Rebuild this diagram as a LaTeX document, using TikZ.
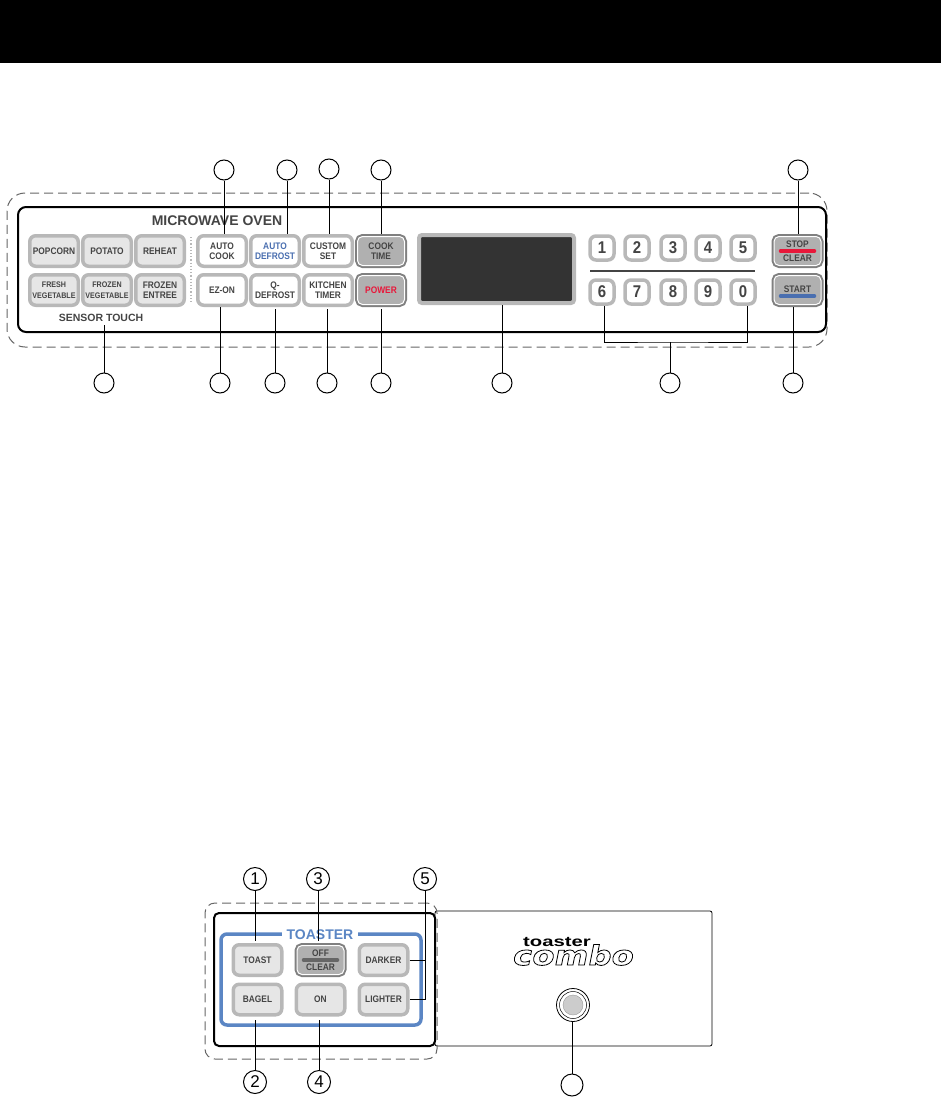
\documentclass[tikz,border=0pt]{standalone}
\usepackage{fontspec}
\setmainfont{Liberation Sans}
\newfontfamily\btnfont[FakeStretch=0.88]{Liberation Sans}
\newfontfamily\logofont[FakeStretch=1.45]{Liberation Sans}
\newfontfamily\combofont[FakeStretch=1.2,FakeSlant=0.2]{DejaVu Sans}
\usetikzlibrary{positioning}

\definecolor{btnrim}{HTML}{B8B8B8}
\definecolor{btndark}{HTML}{808080}
\definecolor{btnface}{HTML}{E6E6E6}
\definecolor{btnmid}{HTML}{B0B0B0}
\definecolor{ink}{HTML}{444444}
\definecolor{dashgray}{HTML}{666666}
\definecolor{blueline}{HTML}{5B86C4}
\definecolor{autoblue}{HTML}{4A6FB0}
\definecolor{powerred}{HTML}{E8173A}

\newcommand{\txtsize}[1]{\fontsize{#1}{#1}\selectfont}

\begin{document}
\begin{tikzpicture}[
    x=1pt, y=-1pt,
    btn/.style={rectangle, rounded corners=6pt, draw=btnrim, line width=3.5pt, fill=white,
        minimum width=48.5pt, minimum height=30.5pt, inner sep=0pt, align=center, text=ink,
        font=\btnfont\bfseries\fontsize{9.5}{10.5}\selectfont},
    sensorbtn/.style={btn, fill=btnface},
    smallbtn/.style={sensorbtn, font=\btnfont\bfseries\fontsize{8.1}{10.5}\selectfont},
    % gray rim, thin white ring, gray face
    darkbtn/.style={btn, fill=btnmid, draw=white, line width=1pt, outer sep=2.5pt,
        minimum width=47pt, minimum height=29pt, rounded corners=5pt,
        preaction={draw=btndark, line width=5pt}},
    clearbtn/.style={darkbtn, font=\btnfont\bfseries\fontsize{9.5}{14}\selectfont},
    numkey/.style={btn, minimum width=24pt, minimum height=24pt, rounded corners=6pt,
        font=\btnfont\bfseries\fontsize{17}{17}\selectfont},
    callout/.style={circle, draw, line width=1pt, minimum size=20pt, inner sep=0pt},
    numcall/.style={callout, minimum size=23pt, font=\fontsize{17}{17}\selectfont},
    lead/.style={line width=1pt},
    panel/.style={rectangle, draw, line width=2pt, rounded corners=8pt, inner sep=0pt},
    dashbox/.style={rectangle, draw=dashgray, line width=1pt, dash pattern=on 9pt off 5pt, inner sep=0pt},
    bar/.style={line width=3.5pt, line cap=round}
]
    \useasboundingbox (0,0) rectangle (941,1097);
    \fill[black] (0,0) rectangle (941,63);

    % oven control panel
    \node[dashbox, rounded corners=18pt, minimum width=820pt, minimum height=154pt] (ovenzone) at (417,270) {};
    \node[panel, minimum width=808pt, minimum height=125pt] (ovenpanel) at (422,269.5) {};
    \node[text=ink, font=\bfseries\txtsize{14}] (oventitle) at (217,220.5) {MICROWAVE OVEN};
    \node[text=ink, font=\bfseries\txtsize{10.5}] (sensortouch) at (101,318) {SENSOR TOUCH};

    \node[sensorbtn] (popcorn) at (54,251) {POPCORN};
    \node[sensorbtn, right=1pt of popcorn] (potato) {POTATO};
    \node[sensorbtn, right=1pt of potato] (reheat) {REHEAT};
    \node[smallbtn, below=5pt of popcorn] (fresh) {FRESH\\VEGETABLE};
    \node[smallbtn, below=5pt of potato] (frozenveg) {FROZEN\\VEGETABLE};
    \node[sensorbtn, below=5pt of reheat] (frozenent) {FROZEN\\ENTREE};

    \draw[btnrim, line width=1.2pt, dotted] (191,237) -- (191,303);

    \node[btn] (autocook) at (222,251) {AUTO\\COOK};
    \node[btn, right=1pt of autocook] (autodefrost) {\textcolor{autoblue}{AUTO}\\\textcolor{autoblue}{DEFROST}};
    \node[btn, right=1pt of autodefrost] (customset) {CUSTOM\\SET};
    \node[darkbtn, right=1pt of customset] (cooktime) {COOK\\TIME};
    \node[btn, below=5pt of autocook] (ezon) {EZ-ON};
    \node[btn, below=5pt of autodefrost] (qdefrost) {Q-\\DEFROST};
    \node[btn, below=5pt of customset] (kitchen) {KITCHEN\\TIMER};
    \node[darkbtn, below=5pt of cooktime, text=powerred] (power) {POWER};

    \node[rectangle, rounded corners=3pt, draw=btnrim, line width=4pt, fill=black!80,
        minimum width=155pt, minimum height=68pt] (display) at (496.5,269) {};

    \node[numkey] (keyone) at (602,248) {1};
    \node[numkey] (keytwo) at (637,248) {2};
    \node[numkey] (keythree) at (673,248) {3};
    \node[numkey] (keyfour) at (708,248) {4};
    \node[numkey] (keyfive) at (743,248) {5};
    \node[numkey] (keysix) at (602,292) {6};
    \node[numkey] (keyseven) at (637,292) {7};
    \node[numkey] (keyeight) at (673,292) {8};
    \node[numkey] (keynine) at (708,292) {9};
    \node[numkey] (keyzero) at (743,292) {0};
    \draw[ink, line width=2pt] (590,271) -- (755,271);

    \node[clearbtn] (stop) at (797.5,251) {STOP\\CLEAR};
    \node[clearbtn, below=5pt of stop] (start) {\raisebox{1.5pt}{START}};
    \draw[bar, powerred] ([xshift=-17pt]stop.center) -- ([xshift=17pt]stop.center);
    \draw[bar, autoblue] ([xshift=-17pt,yshift=-6pt]start.center) -- ([xshift=17pt,yshift=-6pt]start.center);

    \node[callout] (cautocook) at (224,170) {};
    \node[callout] (cautodefrost) at (287,170) {};
    \node[callout] (ccustom) at (329,169) {};
    \node[callout] (ccook) at (381,170) {};
    \node[callout] (cstop) at (798,170) {};
    \node[callout] (csensor) at (104,383) {};
    \node[callout] (cezon) at (220,383) {};
    \node[callout] (cqdefrost) at (275,383) {};
    \node[callout] (ckitchen) at (327,383) {};
    \node[callout] (cpower) at (381,383) {};
    \node[callout] (cdisplay) at (502,383) {};
    \node[callout] (ckeys) at (670,383) {};
    \node[callout] (cstart) at (793,383) {};

    \draw[lead] (cautocook) -- (cautocook |- autocook.north);
    \draw[lead] (cautodefrost) -- (cautodefrost |- autodefrost.north);
    \draw[lead] (ccustom) -- (ccustom |- customset.north);
    \draw[lead] (ccook) -- (ccook |- cooktime.north);
    \draw[lead] (cstop) -- (cstop |- stop.north);
    \draw[lead] (csensor) -- (csensor |- sensortouch.south);
    \draw[lead] (cezon) -- (cezon |- ezon.south);
    \draw[lead, shorten >=2pt] (cqdefrost) -- (cqdefrost |- qdefrost.south);
    \draw[lead, shorten >=2pt] (ckitchen) -- (ckitchen |- kitchen.south);
    \draw[lead, shorten >=2pt] (cpower) -- (cpower |- power.south);
    \draw[lead] (cdisplay) -- (cdisplay |- display.south);
    \draw[lead] (cstart) -- (cstart |- start.south);
    \coordinate (keysjoin) at (670,342);
    \draw[lead] ([xshift=2pt]keysix.south) |- (keysjoin) -| ([xshift=4pt]keyzero.south);
    \draw[lead] (keysjoin) -- (ckeys);

    % toaster panel
    \node[rectangle, draw, line width=.8pt, rounded corners=2pt, minimum width=277pt, minimum height=135pt] (combopanel) at (573.5,978.5) {};
    \node[dashbox, rounded corners=10pt, minimum width=232pt, minimum height=156pt] (toastzone) at (321,981) {};
    \node[panel, rounded corners=5pt, fill=none, minimum width=221pt, minimum height=133pt] (toastpanel) at (324.5,979.5) {};
    \node[rectangle, draw=blueline, line width=3.5pt, rounded corners=6pt, minimum width=200pt, minimum height=91pt] (toastframe) at (321,979.5) {};
    \node[fill=white, text=blueline, inner sep=0pt, inner xsep=5pt, minimum height=10pt, font=\bfseries\txtsize{14}] (toasttitle) at (320,935) {TOASTER};

    \node[sensorbtn] (toast) at (257.5,960) {TOAST};
    \node[clearbtn] (offclear) at (320.5,960) {OFF\\CLEAR};
    \node[sensorbtn] (darker) at (383.5,960) {DARKER};
    \node[sensorbtn] (bagel) at (257.5,999.5) {BAGEL};
    \node[sensorbtn] (ontoast) at (320.5,999.5) {ON};
    \node[sensorbtn] (lighter) at (383.5,999.5) {LIGHTER};
    \draw[bar, dashgray] ([xshift=-17pt]offclear.center) -- ([xshift=17pt]offclear.center);

    \node[numcall] (ntoast) at (255,879) {1};
    \node[numcall] (nbagel) at (255,1082) {2};
    \node[numcall] (noff) at (318,879) {3};
    \node[numcall] (non) at (319,1082) {4};
    \node[numcall] (nshade) at (425,879) {5};

    \draw[lead, shorten >=2pt] (ntoast) -- (ntoast |- toast.north);
    \draw[lead, shorten >=2pt] (noff) -- (noff |- offclear.north);
    \draw[lead, shorten >=3pt] (nbagel) -- (nbagel |- bagel.south);
    \draw[lead, shorten >=3pt] (non) -- (non |- ontoast.south);
    \draw[lead] (nshade) |- (lighter.east);
    \draw[lead] (darker.east) -| (nshade);

    % combo badge
    \node[font=\combofont\bfseries\txtsize{27}, inner sep=0pt] (brandcombo) at (572,955) {\special{pdf:code 1 Tr 0.8 w}combo\special{pdf:code 0 Tr}};
    \node[font=\logofont\bfseries\txtsize{14}, inner sep=0pt] (brandtop) at (557,942) {toaster};
    \node[circle, draw, line width=.8pt, minimum size=33pt, inner sep=0pt] (sensoreye) at (573,1005) {};
    \node[circle, draw, line width=.5pt, minimum size=27pt, inner sep=0pt] (sensorring) at (573,1005) {};
    \node[circle, fill=black!20, draw=black!40, line width=.4pt, minimum size=20pt, inner sep=0pt] (sensorcore) at (573,1005) {};
    \node[callout, minimum size=22pt] (csensoreye) at (572,1085) {};
    \draw[lead] (csensoreye) -- (csensoreye |- sensoreye.south);
\end{tikzpicture}
\end{document}
